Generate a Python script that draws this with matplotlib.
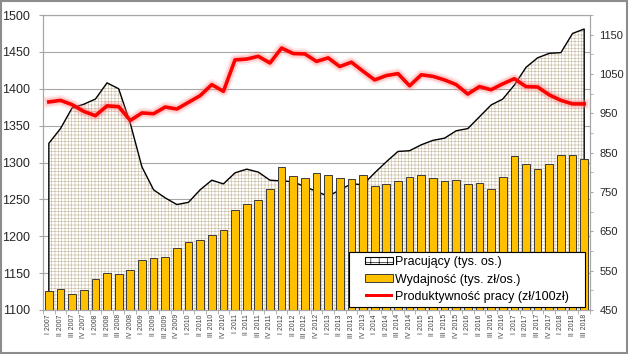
import numpy as np
import matplotlib.pyplot as plt
import matplotlib.patheffects as pe
from matplotlib.patches import Patch, Rectangle
from matplotlib.legend_handler import HandlerPatch

plt.rcParams['font.family'] = ['Liberation Sans', 'DejaVu Sans']
plt.rcParams['hatch.linewidth'] = 0.45

# Quarters I 2007 .. III 2018
quarters = ["I", "II", "III", "IV"]
years = list(range(2007, 2019))
labels = [q + " " + str(y) for y in years for q in quarters][:47]

# Pracujacy (tys. os.) - left axis
pracujacy = [1326, 1346, 1374, 1379, 1386, 1408, 1400, 1353, 1294, 1263, 1252, 1243,
             1246, 1263, 1276, 1271, 1286, 1291, 1287, 1276, 1275, 1274, 1267, 1261,
             1254, 1263, 1271, 1270, 1286, 1301, 1315, 1316, 1324, 1330, 1333, 1343,
             1346, 1362, 1378, 1386, 1405, 1429, 1442, 1448, 1449, 1475, 1481]

# Wydajnosc (tys. zl/os.) - right axis
wydajnosc = [499, 503, 490, 501, 528, 543, 541, 552, 577, 582, 586, 607,
             622, 628, 640, 654, 705, 720, 729, 757, 813, 791, 785, 798,
             793, 785, 783, 794, 766, 771, 779, 788, 793, 785, 778, 780,
             770, 773, 757, 788, 842, 821, 808, 820, 844, 844, 834]

# Produktywnosc pracy (zl/100zl) - right axis
produktywnosc = [979, 983, 972, 955, 944, 969, 967, 932, 951, 949, 966, 961,
                 978, 995, 1023, 1006, 1086, 1088, 1095, 1078, 1116, 1102, 1101, 1082,
                 1091, 1069, 1080, 1057, 1035, 1046, 1051, 1020, 1048, 1044, 1035, 1023,
                 999, 1018, 1010, 1025, 1038, 1018, 1017, 997, 983, 974, 974]

x = np.arange(len(labels))
tan = '#cbbfa6'
grey = '#a6a6a6'

fig = plt.figure(figsize=(6.29, 3.54), dpi=100)
ax1 = fig.add_axes([0.0684, 0.1243, 0.8696, 0.8333])
ax2 = ax1.twinx()

# area for Pracujacy
ax1.fill_between(x, pracujacy, 1100, facecolor='white', edgecolor=tan,
                 hatch='+++++', linewidth=0, zorder=2)
ax1.plot(np.r_[x[0], x, x[-1]], np.r_[1100, pracujacy, 1100], color='black', lw=1, zorder=3)
ax1.set_ylim(1100, 1500)
ax1.set_yticks(np.arange(1100, 1501, 50))
ax1.yaxis.grid(True, color=grey, lw=0.8, zorder=0)
ax1.set_axisbelow(True)
ax1.set_xlim(-0.5, len(x) - 0.5)
ax1.set_xticks(x)
ax1.set_xticklabels(labels, rotation=90, fontsize=5, color='#404040')
ax1.set_xticks(np.arange(-0.5, len(x), 1), minor=True)
ax1.tick_params(axis='x', which='major', length=0, pad=3)
ax1.tick_params(axis='x', which='minor', length=3, color=grey)
ax1.tick_params(axis='y', length=2.9, color=grey, labelsize=9, labelcolor='#262626', pad=6.5)

# bars and line on right axis
ax2.bar(x, wydajnosc, 0.66, color='#ffc000', edgecolor='#3a3a3a', linewidth=0.7, zorder=2)
ax2.plot(x, produktywnosc, color='#ff0000', lw=2.6, zorder=4,
         path_effects=[pe.Stroke(linewidth=8, foreground='#ff8080', alpha=0.15),
                       pe.Stroke(linewidth=5.5, foreground='#ff8080', alpha=0.3),
                       pe.Normal()])
ax2.set_ylim(450, 1200)
ax2.set_yticks(np.arange(450, 1151, 100))
ax2.set_yticks(np.arange(450, 1201, 50), minor=True)
ax2.tick_params(axis='y', which='both', length=2.5, color=grey, labelsize=8,
                labelcolor='#262626', pad=4.3)

for ax in (ax1, ax2):
    for s in ax.spines.values():
        s.set_color(grey)
        s.set_linewidth(0.8)


def right_box(legend, orig_handle, xdescent, ydescent, width, height, fontsize):
    return Rectangle((-xdescent + 0.3 * width, -ydescent), 0.7 * width, height)


def right_line(legend, orig_handle, xdescent, ydescent, width, height, fontsize):
    return Rectangle((-xdescent + 0.3 * width, -ydescent + 0.32 * height), 0.7 * width, 0.36 * height)


h_prac = Patch(facecolor='white', edgecolor='black', hatch='++', linewidth=0.8)
h_wyd = Patch(facecolor='#ffc000', edgecolor='#3a3a3a', linewidth=0.7)
h_prod = Patch(facecolor='#ff0000', edgecolor='none')
names = ["Pracujący (tys. os.)", "Wydajność (tys. zł/os.)", "Produktywność pracy (zł/100zł)"]
leg = ax2.legend([h_prac, h_wyd, h_prod], names, loc='lower left',
                 bbox_to_anchor=(0.5594, 0.0102, 0.4314, 0), mode='expand',
                 fontsize=9, frameon=True, fancybox=False, framealpha=1,
                 edgecolor='black', handlelength=3.2, handleheight=0.55,
                 handletextpad=0.15, labelspacing=0.45, borderpad=0.3, borderaxespad=0,
                 handler_map={h_prac: HandlerPatch(patch_func=right_box),
                              h_wyd: HandlerPatch(patch_func=right_box),
                              h_prod: HandlerPatch(patch_func=right_line)})
leg.get_frame().set_linewidth(0.8)
leg.set_zorder(10)

fig.patches.append(Rectangle((0.002, 0.003), 0.995, 0.993, transform=fig.transFigure,
                             fill=False, edgecolor='#8c8c8c', lw=1.5))

fig.savefig('out.png', dpi=100)
